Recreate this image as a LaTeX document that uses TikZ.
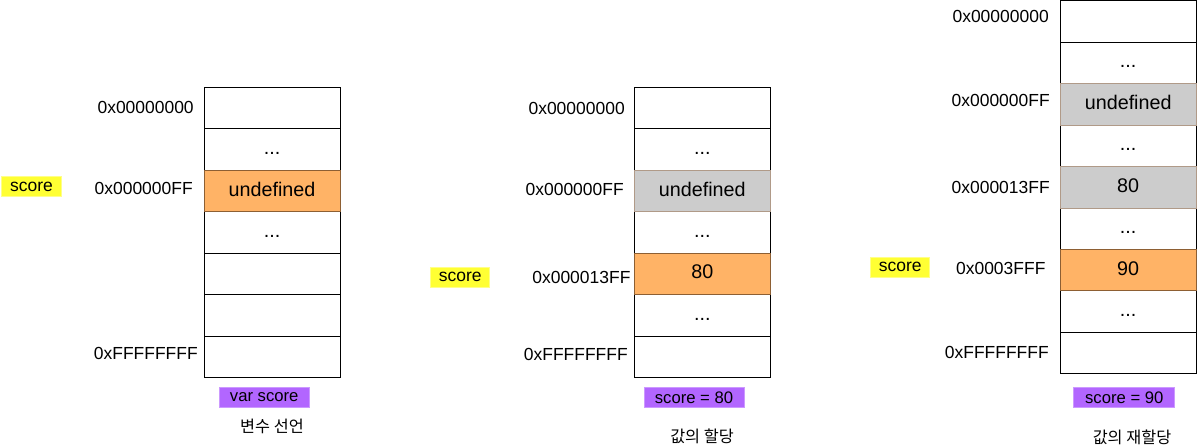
\documentclass[tikz,border=0pt]{standalone}
\usepackage{fontspec}
\setmainfont{Liberation Sans}
\newfontfamily\kofont{Noto Sans CJK KR}
\usetikzlibrary{positioning}

\definecolor{cellorange}{HTML}{FFB366}
\definecolor{orangeline}{HTML}{8D5F33}
\definecolor{cellgrey}{HTML}{CCCCCC}
\definecolor{greyline}{HTML}{B09A88}
\definecolor{tagyellow}{HTML}{FFFF33}
\definecolor{yellowline}{HTML}{FFFF88}
\definecolor{tagpurple}{HTML}{B266FF}
\definecolor{purpleline}{HTML}{CC99FF}

\begin{document}
\begin{tikzpicture}[x=0.75pt, y=-0.75pt,
  cell/.style = {draw, line width=0.75pt, minimum width=102pt, minimum height=31.07pt,
                 inner sep=0pt, outer sep=0pt, text height=9pt, text depth=1.6pt,
                 font=\fontsize{14.8}{17}\selectfont},
  live/.style = {cell, fill=cellorange, draw=orangeline},
  dead/.style = {cell, fill=cellgrey, draw=greyline},
  addr/.style = {anchor=east, inner sep=0pt, font=\fontsize{13.1}{15}\selectfont},
  vartag/.style = {fill=tagyellow, draw=yellowline, line width=0.75pt, minimum width=44.5pt,
                   minimum height=15pt, inner sep=0pt, font=\fontsize{13.1}{15}\selectfont},
  codetag/.style = {fill=tagpurple, draw=purpleline, line width=0.75pt, minimum height=15pt,
                    inner sep=0pt, font=\fontsize{12.5}{14}\selectfont},
  caption/.style = {inner sep=0pt, font=\kofont\fontsize{12.2}{14}\selectfont}]
  \useasboundingbox (0,0) rectangle (1197,448);

  % Declaration
  \node[cell] (decl1) at (272,108.2) {};
  \node[cell] (decl2) at (272,149.6) {...};
  \node[cell] (decl4) at (272,232.5) {...};
  \node[cell] (decl5) at (272,273.9) {};
  \node[cell] (decl6) at (272,315.4) {};
  \node[cell] (decl7) at (272,356.8) {};
  \node[live] (decl3) at (272,191.1) {undefined};

  \node[addr] (declA) at (194,107.5) {0x00000000};
  \node[addr] (declB) at (193,188) {0x000000FF};
  \node[addr] (declZ) at (198,353) {0xFFFFFFFF};

  \node[vartag] (declvar) at (31.5,187) {score};
  \node[codetag, minimum width=67.7pt] (declcode) at (264.2,397.3) {var score};
  \node[caption] (declcap) at (272,426) {변수 선언};

  % Assignment
  \node[cell] (assign1) at (702.3,108.2) {};
  \node[cell] (assign2) at (702.3,149.6) {...};
  \node[cell] (assign4) at (702.3,232.5) {...};
  \node[cell] (assign6) at (702.3,315.4) {...};
  \node[cell] (assign7) at (702.3,356.8) {};
  \node[dead] (assign3) at (702.3,191.1) {undefined};
  \node[live] (assign5) at (702.3,273.9) {80};

  \node[addr] (assignA) at (625,108) {0x00000000};
  \node[addr] (assignB) at (624,189) {0x000000FF};
  \node[addr] (assignC) at (630.7,277) {0x000013FF};
  \node[addr] (assignZ) at (628,354) {0xFFFFFFFF};

  \node[vartag] (assignvar) at (460.3,277.3) {score};
  \node[codetag, minimum width=75pt] (assigncode) at (694,397.3) {score = 80};
  \node[caption] (assigncap) at (702,436) {값의 할당};

  % Reassignment
  \node[cell] (reas1) at (1128.2,21.5) {};
  \node[cell] (reas2) at (1128.2,62.9) {...};
  \node[cell] (reas4) at (1128.2,145.8) {...};
  \node[cell] (reas6) at (1128.2,228.7) {...};
  \node[cell] (reas8) at (1128.2,311.6) {...};
  \node[cell] (reas9) at (1128.2,353.1) {};
  \node[dead] (reas3) at (1128.2,104.4) {undefined};
  \node[dead] (reas5) at (1128.2,187.3) {80};
  \node[live] (reas7) at (1128.2,270.2) {90};

  \node[addr] (reasA) at (1049,16.5) {0x00000000};
  \node[addr] (reasB) at (1050,100) {0x000000FF};
  \node[addr] (reasC) at (1050,187) {0x000013FF};
  \node[addr] (reasD) at (1045.7,268) {0x0003FFF};
  \node[addr] (reasZ) at (1049,352.5) {0xFFFFFFFF};

  \node[vartag] (reasvar) at (900.3,267.3) {score};
  \node[codetag, minimum width=75.5pt] (reascode) at (1124.3,397.3) {score = 90};
  \node[caption] (reascap) at (1132,437.5) {값의 재할당};
\end{tikzpicture}
\end{document}
